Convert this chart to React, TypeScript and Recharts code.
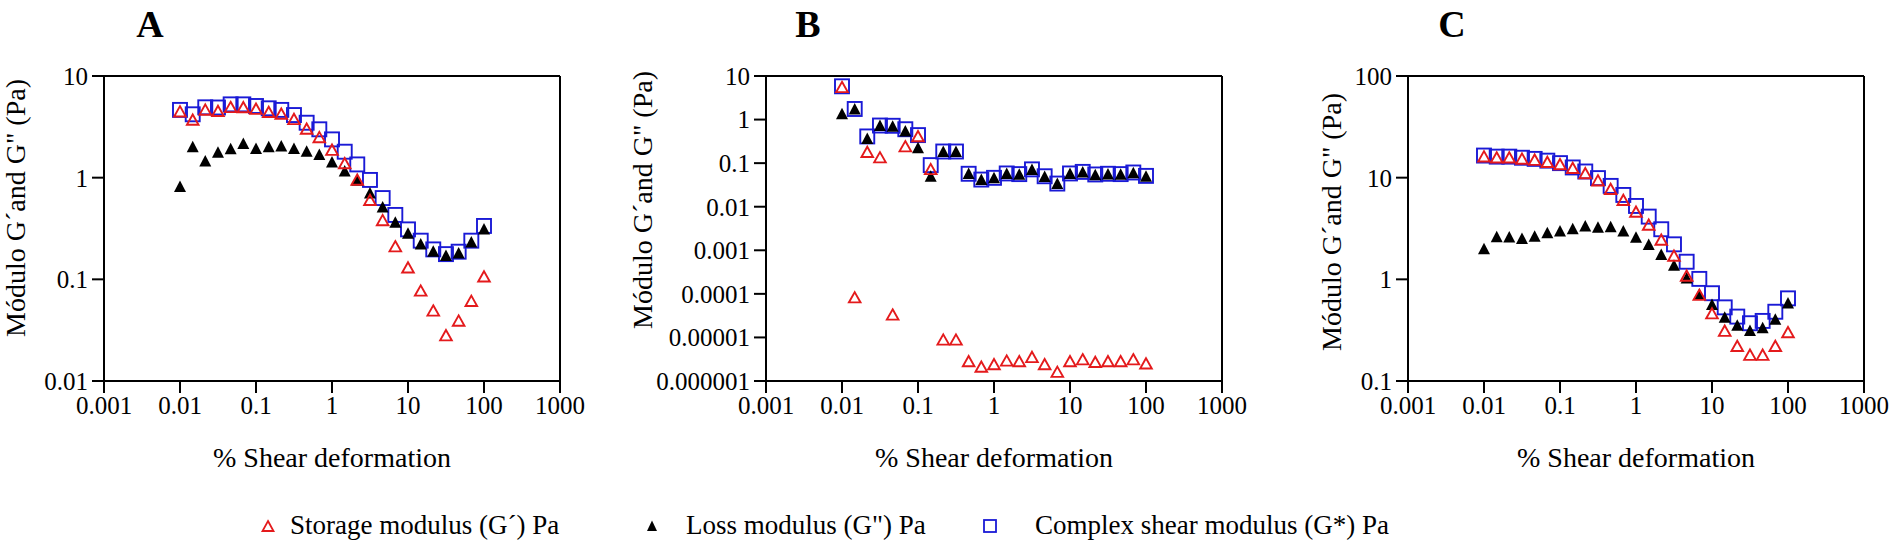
import { ScatterChart, Scatter, XAxis, YAxis, ReferenceLine, Label } from 'recharts';

// ---------- data ----------
const strain = [
    0.01, 0.0147, 0.0215, 0.0316, 0.0464, 0.0681, 0.1, 0.147, 0.215, 0.316, 0.464, 0.681,
    1, 1.47, 2.15, 3.16, 4.64, 6.81, 10, 14.7, 21.5, 31.6, 46.4, 68.1, 100,
];

const storageA = [4.46, 3.69, 4.64, 4.5, 4.92, 4.9, 4.73, 4.4, 4.23, 3.75, 3.01, 2.49, 1.87, 1.38, 0.95, 0.6, 0.38, 0.21, 0.13, 0.077, 0.049, 0.028, 0.039, 0.061, 0.106];
const lossA = [0.81, 1.99, 1.44, 1.76, 1.9, 2.14, 1.91, 1.99, 2.02, 1.91, 1.8, 1.67, 1.41, 1.15, 0.93, 0.7, 0.51, 0.36, 0.28, 0.22, 0.187, 0.17, 0.18, 0.23, 0.31];
const complexA = [4.64, 4.2, 4.92, 4.9, 5.26, 5.26, 5.07, 4.81, 4.64, 4.13, 3.47, 2.99, 2.38, 1.8, 1.35, 0.95, 0.63, 0.43, 0.31, 0.24, 0.197, 0.177, 0.187, 0.24, 0.335];

const storageB = [5.5, 0.000082, 0.178, 0.134, 0.000033, 0.24, 0.41, 0.072, 0.0000088, 0.0000088, 0.0000028, 0.0000021, 0.0000024, 0.0000029, 0.0000028, 0.0000035, 0.0000024, 0.0000016, 0.0000028, 0.0000031, 0.0000027, 0.0000028, 0.0000028, 0.0000031, 0.0000025];
const lossB = [1.32, 1.7, 0.36, 0.71, 0.68, 0.53, 0.22, 0.049, 0.18, 0.18, 0.056, 0.041, 0.045, 0.056, 0.054, 0.07, 0.048, 0.033, 0.056, 0.061, 0.053, 0.055, 0.054, 0.059, 0.049];
const complexB = [5.8, 1.75, 0.41, 0.73, 0.72, 0.6, 0.44, 0.09, 0.185, 0.185, 0.057, 0.042, 0.046, 0.058, 0.056, 0.072, 0.05, 0.034, 0.058, 0.063, 0.055, 0.057, 0.056, 0.061, 0.051];

const storageC = [16.1, 15.7, 15.7, 15.3, 14.9, 14.2, 13.5, 12.4, 11.0, 9.35, 7.7, 6.0, 4.6, 3.43, 2.44, 1.7, 1.08, 0.7, 0.46, 0.31, 0.22, 0.18, 0.18, 0.22, 0.3];
const lossC = [1.98, 2.6, 2.58, 2.5, 2.63, 2.84, 2.95, 3.11, 3.3, 3.22, 3.25, 2.95, 2.57, 2.18, 1.74, 1.36, 1.02, 0.7, 0.56, 0.42, 0.35, 0.31, 0.33, 0.4, 0.58];
const complexC = [16.5, 16.1, 16.1, 15.7, 15.3, 14.7, 13.9, 12.6, 11.5, 9.9, 8.3, 6.76, 5.27, 4.14, 3.11, 2.21, 1.49, 1.01, 0.73, 0.53, 0.43, 0.37, 0.39, 0.48, 0.65];

const xTicks = [0.001, 0.01, 0.1, 1, 10, 100, 1000];
const yTicksA = [0.01, 0.1, 1, 10];
const yTicksB = [0.000001, 0.00001, 0.0001, 0.001, 0.01, 0.1, 1, 10];
const yTicksC = [0.1, 1, 10, 100];

const legendLabels = ['Storage modulus (G´) Pa', 'Loss modulus (G") Pa', 'Complex shear modulus (G*) Pa'];
const yTitle = 'Módulo G´and G" (Pa)';
const xTitle = '% Shear deformation';

// ---------- styling ----------
const RED = '#e41a1c';
const BLUE = '#1a1ad6';
const FONT = "'Liberation Serif', 'Times New Roman', serif";

const toPoints = (ys: number[]) => strain.map((x, i) => ({ x, y: ys[i] }));

const OpenTriangle = (props: any) => {
    const { cx, cy } = props;
    return <path d={`M${cx},${cy - 5.5} L${cx + 5.8},${cy + 4.8} L${cx - 5.8},${cy + 4.8} Z`} fill="#fff" fillOpacity={0} stroke={RED} strokeWidth={1.9} />;
};

const FilledTriangle = (props: any) => {
    const { cx, cy } = props;
    return <path d={`M${cx},${cy - 6.5} L${cx + 6},${cy + 5} L${cx - 6},${cy + 5} Z`} fill="#000" />;
};

const OpenSquare = (props: any) => {
    const { cx, cy } = props;
    return <rect x={cx - 7} y={cy - 7} width={14} height={14} fill="none" stroke={BLUE} strokeWidth={1.9} />;
};

interface PanelProps {
    axisX: number;
    yDomain: [number, number];
    yTicks: number[];
    storage: number[];
    loss: number[];
    complex: number[];
    labelX: number;
    labelY: number;
}

const CHART_LEFT = 150;

const Panel = ({ axisX, yDomain, yTicks, storage, loss, complex, labelX, labelY }: PanelProps) => {
    const left = axisX - CHART_LEFT;
    const lx = labelX - left;
    return (
        <div style={{ position: 'absolute', left, top: 0 }}>
            <ScatterChart width={CHART_LEFT + 456 + 45} height={76 + 305 + 100} margin={{ top: 76, right: 45, bottom: 0, left: CHART_LEFT - 80 }}>
                <XAxis
                    dataKey="x"
                    type="number"
                    scale="log"
                    domain={[0.001, 1000]}
                    ticks={xTicks}
                    interval={0}
                    allowDataOverflow
                    height={100}
                    tickSize={12}
                    tickMargin={3}
                    tickFormatter={(v) => String(v)}
                    axisLine={{ stroke: '#000', strokeWidth: 2 }}
                    tickLine={{ stroke: '#000', strokeWidth: 2 }}
                    tick={{ fill: '#000', fontSize: 25, fontFamily: FONT }}
                >
                    <Label value={xTitle} position="insideBottom" offset={14} style={{ fill: '#000', fontSize: 28, fontFamily: FONT }} />
                </XAxis>
                <YAxis
                    dataKey="y"
                    type="number"
                    scale="log"
                    domain={yDomain}
                    ticks={yTicks}
                    interval={0}
                    allowDataOverflow
                    width={80}
                    tickSize={12}
                    tickMargin={4}
                    tickFormatter={(v) => String(v)}
                    axisLine={{ stroke: '#000', strokeWidth: 2 }}
                    tickLine={{ stroke: '#000', strokeWidth: 2 }}
                    tick={{ fill: '#000', fontSize: 25, fontFamily: FONT }}
                >
                    <Label
                        content={() => (
                            <text
                                x={lx}
                                y={labelY}
                                transform={`rotate(-90 ${lx} ${labelY})`}
                                textAnchor="middle"
                                dominantBaseline="central"
                                fill="#000"
                                fontSize={28}
                                fontFamily={FONT}
                            >
                                {yTitle}
                            </text>
                        )}
                    />
                </YAxis>
                {/* box frame: top and right edges */}
                <ReferenceLine y={yDomain[1]} stroke="#000" strokeWidth={2} ifOverflow="visible" />
                <ReferenceLine x={1000} stroke="#000" strokeWidth={2} ifOverflow="visible" />
                <Scatter data={toPoints(complex)} shape={OpenSquare} isAnimationActive={false} />
                <Scatter data={toPoints(loss)} shape={FilledTriangle} isAnimationActive={false} />
                <Scatter data={toPoints(storage)} shape={OpenTriangle} isAnimationActive={false} />
            </ScatterChart>
        </div>
    );
};

const Letter = ({ x, text }: { x: number; text: string }) => (
    <div style={{ position: 'absolute', left: x - 30, top: 2, width: 60, textAlign: 'center', fontFamily: FONT, fontWeight: 'bold', fontSize: 38, lineHeight: '44px' }}>
        {text}
    </div>
);

const Legend = () => (
    <div style={{ position: 'absolute', left: 0, top: 509, width: 1892, height: 33, fontFamily: FONT, fontSize: 27, lineHeight: '33px' }}>
        <svg style={{ position: 'absolute', left: 260, top: 10 }} width={16} height={14}>
            <path d="M8,2 L13.5,12 L2.5,12 Z" fill="none" stroke={RED} strokeWidth={1.8} />
        </svg>
        <span style={{ position: 'absolute', left: 290, top: 0, whiteSpace: 'nowrap' }}>{legendLabels[0]}</span>
        <svg style={{ position: 'absolute', left: 644, top: 10 }} width={16} height={14}>
            <path d="M8,1.5 L13,12 L3,12 Z" fill="#000" />
        </svg>
        <span style={{ position: 'absolute', left: 686, top: 0, whiteSpace: 'nowrap' }}>{legendLabels[1]}</span>
        <svg style={{ position: 'absolute', left: 982, top: 9 }} width={16} height={16}>
            <rect x={2} y={2} width={12} height={12} fill="none" stroke={BLUE} strokeWidth={1.8} />
        </svg>
        <span style={{ position: 'absolute', left: 1035, top: 0, whiteSpace: 'nowrap' }}>{legendLabels[2]}</span>
    </div>
);

export default function App() {
    return (
        <div style={{ position: 'absolute', left: 0, top: 0, width: 1892, height: 542, background: '#fff', overflow: 'hidden' }}>
            <Letter x={150} text="A" />
            <Letter x={808} text="B" />
            <Letter x={1452} text="C" />
            <Panel axisX={104} yDomain={[0.01, 10]} yTicks={yTicksA} storage={storageA} loss={lossA} complex={complexA} labelX={15} labelY={208} />
            <Panel axisX={766} yDomain={[0.000001, 10]} yTicks={yTicksB} storage={storageB} loss={lossB} complex={complexB} labelX={642} labelY={200} />
            <Panel axisX={1408} yDomain={[0.1, 100]} yTicks={yTicksC} storage={storageC} loss={lossC} complex={complexC} labelX={1331} labelY={222} />
            <Legend />
        </div>
    );
}
